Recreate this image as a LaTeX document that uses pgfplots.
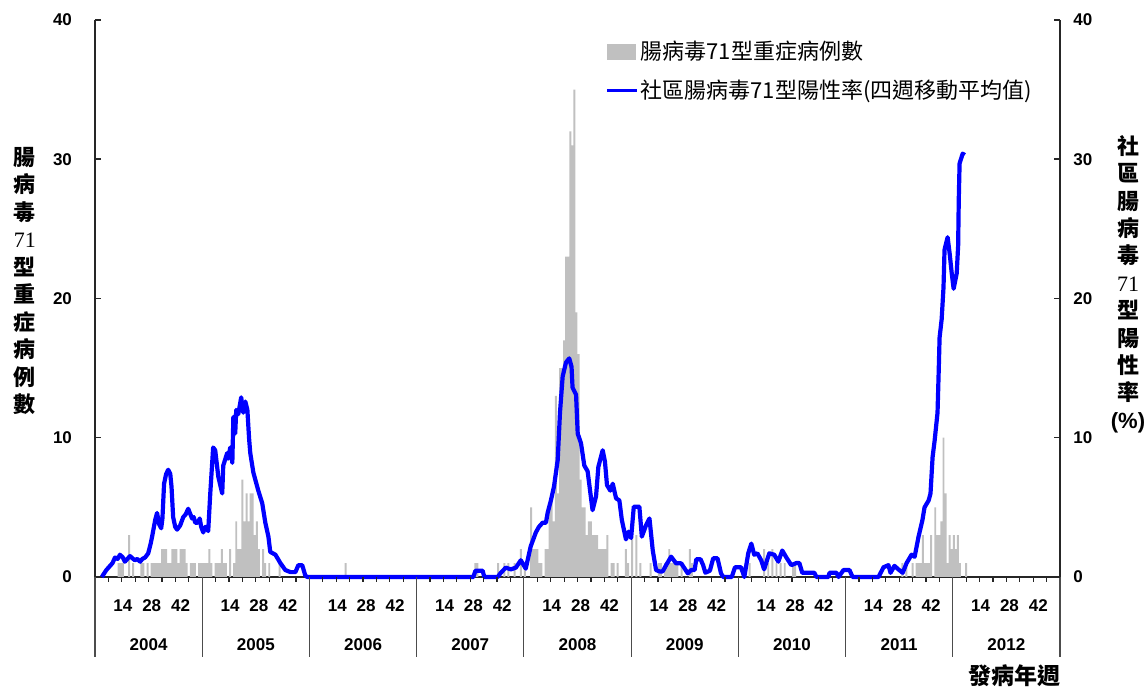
\documentclass[border=0pt]{standalone}
\usepackage{fontspec}
\setmainfont{Liberation Sans}
\newfontfamily\cjk{Noto Sans CJK TC}
\newfontfamily\serifd{Liberation Serif}
\usepackage{pgfplots}
\pgfplotsset{compat=1.18}
\usepackage{pgfplotstable}
\definecolor{barg}{HTML}{C0C0C0}
\definecolor{evblue}{HTML}{0000FF}
\pgfplotstableread{
t v
3.8 0
6 0.5
7.8 0.8
9 1.0
10.2 1.4
11.5 1.3
12.6 1.6
14 1.4
15 1.1
16.2 1.3
17.5 1.5
19 1.3
19.9 1.2
21 1.3
22.4 1.1
23.5 1.3
24.8 1.4
26.3 1.7
27.5 2.4
28.2 2.9
29.7 4.1
30.6 4.6
31.6 3.8
32.6 3.5
33.2 4.2
34 6.7
35 7.4
36 7.7
37 7.4
37.6 6.5
38.4 4.3
39.4 3.6
40.3 3.4
41.8 3.7
43.3 4.3
44.5 4.5
45.7 4.9
46.5 4.6
47.6 4.2
48.4 4.3
49.1 3.9
50.3 3.9
51.3 4.2
52 3.6
53 3.2
54 3.6
55.4 3.3
56.4 6.0
57.8 9.3
58.8 9.1
60.3 7.2
62.2 6.0
62.7 8.0
64.6 8.9
65.1 8.5
66.1 9.3
67.1 8.2
67.6 11.5
68.5 10.3
69 12.0
70 11.7
71.4 12.9
72.4 11.8
73.4 12.6
74.4 12.0
75.2 10.0
75.8 8.9
77.3 7.5
79.7 6.2
81.6 5.3
83.1 3.9
84.6 2.9
85.5 1.8
88 1.6
90.4 1.0
92.8 0.5
95.3 0.35
97.7 0.35
99.1 0.85
101 0.85
102.5 0.1
103.5 0
184 0
185 0.45
188.5 0.45
189.3 0
195.8 0
197.3 0.3
199.7 0.67
202.2 0.55
204.6 0.67
207 1.2
209.4 0.6
211.8 2.2
214.3 3.2
215.8 3.6
217.6 3.9
219.2 3.9
220 4.6
221.6 5.5
223.1 6.5
224.9 8.4
226 11.8
227.3 14.4
228.9 15.4
230.5 15.7
231.6 15.1
232.1 13.6
233.8 13.1
234.6 10.3
236.2 9.6
237.8 8.0
239.4 7.6
241.8 4.8
243.5 5.8
244.6 7.9
246.7 9.1
247.8 8.3
248.8 6.6
250.4 6.2
251.6 6.7
253.2 5.65
254.8 5.5
256 4.1
258 2.7
259.2 3.25
260.5 2.8
261.8 5.05
264.5 5.05
265.7 2.9
267.7 3.7
269.4 4.2
271 1.9
272.6 0.5
274.2 0.4
275.8 0.4
277.5 0.86
279.9 1.46
282.3 0.98
284.8 0.98
286.4 0.62
288 0.26
289.6 0.5
291.3 0.5
292.1 1.27
294.2 1.27
295.4 0.86
296.5 0.31
298.7 0.45
300.3 1.34
302.4 1.34
304.1 0.26
305.2 0
309.3 0
310.9 0.7
313.8 0.7
315.4 0
317.3 1.7
318.8 2.4
320.2 1.6
321.7 1.7
323.6 1.2
325 0.55
327.5 1.7
329.9 1.6
331.9 1.1
333.8 1.9
335.8 1.4
338.2 0.85
340.6 1.0
342.1 1.0
343.5 0.3
349.4 0.3
350.4 0
356.2 0
356.7 0.3
360.1 0.3
361.1 0
363.5 0.5
366.4 0.5
367.9 0
380.5 0
382.9 0.7
385.3 0.85
386.3 0.3
388.2 0.8
390.1 0.55
392.2 0.3
394.1 1.0
396.5 1.6
398 1.45
399.9 2.9
401.8 4.1
402.8 5.0
404.8 5.5
405.7 6.0
406.7 8.6
407.7 9.8
409.1 11.8
409.6 14.4
410.1 17.2
411.1 18.5
412 20.8
412.5 23.5
414 24.4
415 23.2
416 21.8
416.9 20.7
418.4 21.8
419.1 23.8
419.4 27.1
419.8 29.7
421.3 30.4
422.3 30.3
}\linedata
\pgfplotstableread{
t n
12 1
13 1
14 1
17 3
19 1
23 1
24 1
26 1
28 1
29 1
30 1
31 1
32 1
33 2
34 2
35 2
36 1
37 1
38 2
39 2
40 2
41 1
42 2
43 2
44 2
45 1
47 1
48 1
49 1
51 1
52 1
53 1
54 1
55 1
56 2
57 1
59 1
60 1
61 1
62 2
63 1
64 1
66 2
68 1
69 4
70 2
71 2
72 7
73 4
74 6
75 4
76 6
77 6
78 3
79 4
80 2
82 2
83 1
85 1
90 1
122 1
185 1
186 1
196 1
199 1
201 1
204 1
207 2
209 1
212 5
213 2
214 2
215 2
216 1
217 1
219 2
220 2
221 5
222 6
223 4
224 13
225 6
226 15
227 15
228 17
229 23
230 23
231 32
232 31
233 35
234 19
235 16
236 7
237 5
238 5
239 3
240 4
241 4
242 3
243 3
244 3
245 2
246 2
247 2
248 2
249 3
251 1
252 1
254 1
258 2
259 1
261 3
263 3
265 1
270 1
274 1
275 1
277 1
278 1
279 2
280 1
281 1
282 1
283 1
285 1
289 2
290 1
318 1
325 2
327 1
329 2
331 1
333 1
335 1
339 1
340 1
392 1
394 1
397 1
399 1
400 1
401 1
402 3
403 1
404 1
405 1
406 3
408 5
409 3
410 3
411 4
412 10
413 6
414 1
415 3
416 2
417 3
418 2
419 3
420 1
423 1
}\bardata
\begin{document}
\begin{tikzpicture}
\begin{axis}[name=ax, scale only axis, width=482.5pt, height=278.5pt,
  xmin=0.5, xmax=468.5, ymin=0, ymax=40, clip=false,
  axis x line*=bottom, axis y line*=left,
  axis line style={-, line width=0.75pt, black!85},
  ytick={0,10,20,30,40}, tick align=inside, major tick length=3pt,
  ytick style={line width=0.75pt, black!85},
  yticklabel style={font=\bfseries\fontsize{8.5}{10}\selectfont, xshift=-8pt},
  xtick={14,28,42,66,80,94,118,132,146,170,184,198,222,236,250,274,288,302,326,340,354,378,392,406,430,444,458},
  xticklabels={14,28,42,14,28,42,14,28,42,14,28,42,14,28,42,14,28,42,14,28,42,14,28,42,14,28,42},
  xtick style={draw=none},
  xticklabel style={font=\bfseries\fontsize{8.5}{10}\selectfont, yshift=-8pt},
  /pgf/number format/assume math mode=true,
  legend style={at={(0.5285,0.966)}, anchor=north west, draw=none, fill=none,
    inner sep=0pt, row sep=6.5pt, font=\cjk\fontsize{11}{13}\selectfont,
    nodes={inner sep=1pt}},
  legend cell align=left,
]
\addplot[ybar, bar width=0.95, bar shift=0pt, fill=barg, draw=none,
  legend image code/.code={\fill[barg] (0pt,-4pt) rectangle (14.5pt,4pt);}]
  table[x=t, y=n]{\bardata};
\addlegendentry{腸病毒71型重症病例數}
\addplot[evblue, line width=2.1pt, line join=round,
  legend image code/.code={\draw[evblue, line width=1.6pt] (0pt,0pt) -- (15pt,0pt);}]
  table[x=t, y=v]{\linedata};
\addlegendentry{社區腸病毒71型陽性率(四週移動平均值)}
\pgfplotsinvokeforeach{1,...,71}{\draw[black!85, line width=0.6pt] (axis cs:{0.5+6.5*#1},0) -- ++(0pt,-2.5pt);}
\pgfplotsinvokeforeach{0,...,9}{\draw[black!70, line width=0.6pt] (axis cs:{0.5+52*#1},0) -- ++(0pt,-40pt);}
\node[font=\bfseries\fontsize{8.5}{10}\selectfont, yshift=-34pt] at (axis cs:26.5,0) {2004};
\node[font=\bfseries\fontsize{8.5}{10}\selectfont, yshift=-34pt] at (axis cs:78.5,0) {2005};
\node[font=\bfseries\fontsize{8.5}{10}\selectfont, yshift=-34pt] at (axis cs:130.5,0) {2006};
\node[font=\bfseries\fontsize{8.5}{10}\selectfont, yshift=-34pt] at (axis cs:182.5,0) {2007};
\node[font=\bfseries\fontsize{8.5}{10}\selectfont, yshift=-34pt] at (axis cs:234.5,0) {2008};
\node[font=\bfseries\fontsize{8.5}{10}\selectfont, yshift=-34pt] at (axis cs:286.5,0) {2009};
\node[font=\bfseries\fontsize{8.5}{10}\selectfont, yshift=-34pt] at (axis cs:338.5,0) {2010};
\node[font=\bfseries\fontsize{8.5}{10}\selectfont, yshift=-34pt] at (axis cs:390.5,0) {2011};
\node[font=\bfseries\fontsize{8.5}{10}\selectfont, yshift=-34pt] at (axis cs:442.5,0) {2012};
\node[font=\cjk\bfseries\fontsize{11.5}{13}\selectfont, yshift=-49.5pt] at (axis cs:446.6,0) {發病年週};
\node[font=\cjk\bfseries\fontsize{11}{13.75}\selectfont, align=center, xshift=-35pt] at (axis cs:0.5,21.26) {腸\\病\\毒\\{\serifd\mdseries 71}\\型\\重\\症\\病\\例\\數};
\node[font=\cjk\bfseries\fontsize{11}{13.7}\selectfont, align=center, xshift=34pt] at (axis cs:468.5,21.04) {社\\區\\腸\\病\\毒\\{\serifd\mdseries 71}\\型\\陽\\性\\率\\{\rmfamily\bfseries(\%)}};
\end{axis}
\begin{axis}[scale only axis, width=482.5pt, height=278.5pt,
  xmin=0.5, xmax=468.5, ymin=0, ymax=40,
  axis x line=none, axis y line*=right,
  axis line style={-, line width=0.75pt, black!85},
  ytick={0,10,20,30,40}, tick align=inside, major tick length=3pt,
  ytick style={line width=0.75pt, black!85},
  yticklabel style={font=\bfseries\fontsize{8.5}{10}\selectfont, xshift=3.2pt},
  /pgf/number format/assume math mode=true,
]
\end{axis}
\pgfresetboundingbox
\path ([shift={(-47.5pt,-55pt)}]ax.south west) rectangle ([shift={(44pt,10pt)}]ax.north east);
\end{tikzpicture}
\end{document}
